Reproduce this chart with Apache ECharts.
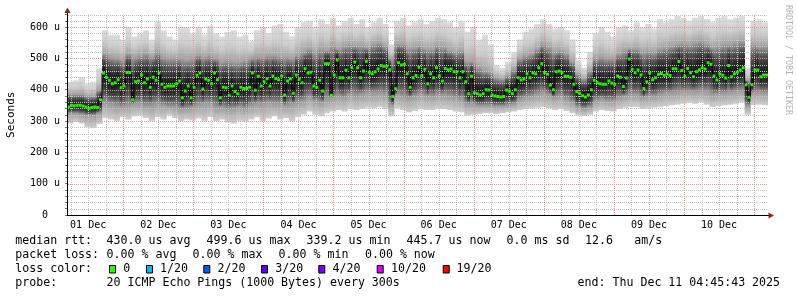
<!DOCTYPE html>
<html><head><meta charset="utf-8">
<script src="https://cdn.jsdelivr.net/npm/echarts@6/dist/echarts.min.js"></script>
<style>html,body{margin:0;padding:0;background:#fff}#c{width:797px;height:297px}</style>
</head><body><div id="c"></div>
<script>
// ---- data ----
const startHour = 4.7619;   // Dec 1 04:45:43 (hours since Dec 1 00:00)
const endHour = 244.7619;   // Dec 11 04:45:43
const dayLabels = ['01 Dec','02 Dec','03 Dec','04 Dec','05 Dec','06 Dec','07 Dec','08 Dec','09 Dec','10 Dec'];
const dayLabelHours = [12,36,60,84,108,132,156,180,204,228];
const yMaxVal = 640;

// hourly median rtt (us)
const median = [345,350,349,350,350,348,345,340,343,345,343,368,
453,440,430,419,422,432,406,412,455,455,368,425,428,448,422,434,408,440,430,453,417,408,412,412,412,419,428,374,396,
412,374,408,446,453,402,434,430,419,453,432,374,408,406,382,412,394,387,408,404,404,408,453,398,443,412,425,435,412,444,436,432,444,383,428,434,389,447,433,422,467,
453,456,412,408,430,396,483,483,382,447,495,438,438,462,438,470,488,470,438,460,491,456,451,457,466,477,475,475,464,378,403,486,479,481,451,408,438,445,472,445,465,
419,451,438,470,444,428,468,464,466,457,457,438,457,425,387,443,390,387,383,387,400,399,383,380,378,377,378,399,396,387,400,438,431,434,451,438,453,451,470,483,455,
449,415,400,457,460,455,443,443,440,417,394,389,381,377,383,400,430,423,419,417,417,428,421,417,444,440,410,437,498,465,454,463,447,404,425,453,432,438,449,452,446,
450,445,467,467,490,461,444,468,454,441,457,464,469,466,486,481,444,431,450,446,437,477,441,451,456,463,470,416,376,416,463,463,441,447,447];

// smoke envelope, 2-hour resolution (us)
const smokeMax = [425,430,440,420,425,470,
590,575,575,560,600,570,580,590,560,620,590,570,560,600,600,
580,600,575,605,580,570,585,590,570,575,555,590,600,580,605,610,585,570,600,615,
620,600,625,610,630,605,620,630,610,625,600,615,630,610,545,620,630,605,615,625,610,
620,630,625,615,600,620,585,600,560,575,545,480,470,490,520,560,585,595,610,625,
610,595,600,590,560,495,470,520,580,600,585,570,600,605,590,615,600,610,595,625,615,
625,635,630,620,630,635,625,615,630,635,625,630,635,470,620,625,615];
const smokeHi = [385,385,385,380,380,400,
515,505,500,495,515,505,510,515,505,520,505,500,500,500,495,
500,510,505,510,500,490,495,490,490,495,500,505,505,510,510,505,505,500,510,520,
530,520,530,525,540,530,540,545,540,540,535,545,550,540,500,545,545,530,535,540,530,
530,540,535,525,520,525,490,490,470,460,455,440,435,445,465,500,510,515,530,545,
535,520,525,515,490,450,435,460,500,505,500,500,515,525,530,530,520,525,520,530,535,
540,545,550,545,550,555,545,535,540,545,545,550,555,430,545,540,540];
const smokeLo = [325,325,322,318,318,325,
360,355,350,345,350,355,355,350,350,355,350,345,345,340,340,
345,350,355,355,345,345,340,340,345,340,350,355,355,360,355,355,350,355,360,365,
375,365,360,370,375,380,375,385,380,385,390,390,390,385,350,385,380,375,380,385,380,
380,385,385,380,375,370,355,355,350,350,350,348,348,350,355,370,375,378,385,390,
385,375,380,370,360,345,340,345,365,370,365,365,375,380,385,385,375,378,380,385,390,
390,392,395,395,395,398,395,385,388,390,392,395,398,350,390,392,390];
const smokeMin = [292,298,292,280,278,290,
310,305,300,312,305,315,318,310,300,312,305,318,310,300,305,
302,308,300,312,300,305,296,292,300,298,305,312,300,308,315,305,310,300,312,320,
330,320,315,325,330,335,330,340,335,338,342,340,345,338,315,340,335,328,332,338,335,
335,340,338,335,330,328,318,320,322,325,325,322,325,328,330,335,338,340,342,345,
340,335,338,332,325,318,315,320,330,335,332,330,338,342,345,345,338,340,342,345,348,
350,352,355,358,355,360,352,345,348,350,352,355,360,320,350,352,350];

const lossLabels = ['0','1/20','2/20','3/20','4/20','10/20','19/20'];
const lossColors = ['#26ff00','#00b8ff','#0059ff','#5e00ff','#7e00ff','#dd00ff','#ff0000'];

// ---- build ----
const smokeData = median.map((m, i) => {
  const k = Math.floor(i / 2);
  return [startHour + i, startHour + i + 1, smokeMin[k], smokeLo[k], smokeHi[k], smokeMax[k], m];
});
const medRects = median.map((m, i) => [startHour + i, startHour + i + 1, m]);
const medLine = median.map((m, i) => [startHour + i + 0.5, m]);

const vLines = [];
for (let h = 6; h < endHour; h += 6) if (h > startHour) vLines.push(h);
const hLines = [];
for (let v = 20; v <= yMaxVal; v += 20) hLines.push(v);

const GREY = '#c4c4c4', RED = '#e89494';

function smokeItem(params, api) {
  const xa = api.coord([api.value(0), 0])[0];
  const xb = api.coord([api.value(1), 0])[0];
  const yMin = api.coord([0, api.value(2)])[1];
  const yLo = api.coord([0, api.value(3)])[1];
  const yHi = api.coord([0, api.value(4)])[1];
  const yMax = api.coord([0, api.value(5)])[1];
  const yMed = api.coord([0, api.value(6)])[1];
  const h = yMin - yMax;
  const f = y => Math.min(1, Math.max(0, (y - yMax) / h));
  const raw = [
    [0, '#dcdcdc'],
    [f(yMax + (yHi - yMax) * 0.5), '#cdcdcd'],
    [f(yHi), '#a2a2a2'],
    [f(yHi + (yMed - yHi) * 0.35), '#525252'],
    [f(yHi + (yMed - yHi) * 0.7), '#262626'],
    [f(yMed), '#141414'],
    [f(yMed + (yLo - yMed) * 0.3), '#262626'],
    [f(yMed + (yLo - yMed) * 0.65), '#505050'],
    [f(yLo), '#9a9a9a'],
    [1, '#cfcfcf']
  ];
  let prev = 0;
  const stops = raw.map(([o, c]) => { o = Math.max(prev, o); prev = o; return { offset: o, color: c }; });
  return {
    type: 'rect',
    shape: { x: xa, y: yMax, width: xb - xa + 0.4, height: h },
    style: { fill: new echarts.graphic.LinearGradient(0, 0, 0, 1, stops) }
  };
}
function medItem(params, api) {
  const xa = api.coord([api.value(0), 0])[0];
  const xb = api.coord([api.value(1), 0])[0];
  const y = api.coord([0, api.value(2)])[1];
  return { type: 'rect', shape: { x: xa, y: y - 1.5, width: xb - xa, height: 3 }, style: { fill: '#26f000' } };
}
function vGridItem(params, api) {
  const h = api.value(0);
  const x = Math.round(api.coord([h, 0])[0]) + 0.5;
  const y0 = api.coord([h, 0])[1], y1 = api.coord([h, yMaxVal])[1];
  return { type: 'line', shape: { x1: x, y1: y0, x2: x, y2: y1 },
    style: { stroke: h % 24 === 0 ? RED : GREY, lineWidth: 1, lineDash: [1, 1] } };
}
function hGridItem(params, api) {
  const v = api.value(0);
  const y = Math.round(api.coord([startHour, v])[1]) + 0.5;
  const x0 = api.coord([startHour, v])[0], x1 = api.coord([endHour, v])[0];
  return { type: 'line', shape: { x1: x0 + 1, y1: y, x2: x1, y2: y },
    style: { stroke: v % 100 === 0 ? RED : GREY, lineWidth: 1, lineDash: [1, 1] } };
}

const MONO = '"DejaVu Sans Mono", monospace';
const LF = '11.6px ' + MONO;
function txt(s, x, y, extra) {
  return Object.assign({ type: 'text', x: x, y: y, silent: true,
    style: { text: s, font: LF, fill: '#000', textAlign: 'left', textVerticalAlign: 'middle', align: 'left', verticalAlign: 'middle' } }, extra || {});
}
const L1 = 241, L2 = 255, L3 = 269, L4 = 283;
const lossSquareX = [109, 146, 203.3, 261, 318.3, 376.7, 442.7];
const lossTextX = [124, 160.7, 218.3, 276, 333.3, 391.7, 457.3];

const gLeft = 67, gRight = 29, gTop = 14.5, gBottom = 82;
const W = 797, H = 297;
const plotRight = W - gRight, plotBottom = H - gBottom;

const graphics = [
  txt('median rtt:', 15.3, L1), txt('430.0 us avg', 106.6, L1), txt('499.6 us max', 206.6, L1),
  txt('339.2 us min', 306.6, L1), txt('445.7 us now', 406.6, L1), txt('0.0 ms sd', 506.6, L1),
  txt('12.6', 585, L1), txt('am/s', 634.3, L1),
  txt('packet loss:', 15.3, L2), txt('0.00 % avg', 106.6, L2), txt('0.00 % max', 192.6, L2),
  txt('0.00 % min', 278.6, L2), txt('0.00 % now', 365, L2),
  txt('loss color:', 15.3, L3),
  txt('probe:', 15.3, L4), txt('20 ICMP Echo Pings (1000 Bytes) every 300s', 106.6, L4),
  txt('end: Thu Dec 11 04:45:43 2025', 577.6, L4),
  { type: 'text', x: 788, y: 5, rotation: -Math.PI / 2, silent: true,
    style: { text: 'RRDTOOL / TOBI OETIKER', font: '8.3px ' + MONO, fill: '#b4b4b4', textAlign: 'left', textVerticalAlign: 'middle', align: 'left', verticalAlign: 'middle' } },
  // axis extensions + arrows
  { type: 'line', silent: true, shape: { x1: gLeft + 0.5, y1: gTop, x2: gLeft + 0.5, y2: 10 }, style: { stroke: '#000', lineWidth: 1 } },
  { type: 'polygon', silent: true, shape: { points: [[gLeft + 0.5, 7.5], [gLeft - 2.5, 13], [gLeft + 3.5, 13]] }, style: { fill: '#a01c1c' } },
  { type: 'line', silent: true, shape: { x1: plotRight, y1: plotBottom + 0.5, x2: 770, y2: plotBottom + 0.5 }, style: { stroke: '#000', lineWidth: 1 } },
  { type: 'polygon', silent: true, shape: { points: [[774, plotBottom + 0.5], [768.5, plotBottom - 2.5], [768.5, plotBottom + 3.5]] }, style: { fill: '#a01c1c' } }
];
lossLabels.forEach((lab, j) => {
  graphics.push({ type: 'rect', silent: true, shape: { x: lossSquareX[j] + 0.5, y: 265.5, width: 6, height: 7.5 },
    style: { fill: lossColors[j], stroke: '#000', lineWidth: 1 } });
  graphics.push(txt(lab, lossTextX[j] - 0.7, L3));
});

const chart = echarts.init(document.getElementById('c'), null, { renderer: 'canvas' });
chart.setOption({
  animation: false,
  backgroundColor: '#ffffff',
  grid: { left: gLeft, right: gRight, top: gTop, bottom: gBottom, containLabel: false, outerBoundsMode: 'none' },
  xAxis: {
    type: 'value', min: startHour, max: endHour, z: 5,
    axisLine: { show: true, onZero: false, lineStyle: { color: '#000', width: 1 } },
    axisTick: { show: false },
    splitLine: { show: false },
    axisLabel: {
      customValues: dayLabelHours,
      formatter: v => { const j = dayLabelHours.indexOf(Math.round(v)); return j >= 0 ? dayLabels[j] : ''; },
      fontFamily: 'DejaVu Sans Mono', fontSize: 10, color: '#000', margin: 5
    }
  },
  yAxis: {
    type: 'value', min: 0, max: yMaxVal, interval: 20, z: 5,
    name: 'Seconds', nameLocation: 'middle', nameRotate: 90, nameGap: 50,
    nameTextStyle: { fontFamily: 'DejaVu Sans Mono', fontSize: 11, color: '#000' },
    axisLine: { show: true, lineStyle: { color: '#000', width: 1 } },
    axisTick: { show: true, length: 2, lineStyle: { color: '#777' } },
    axisLabel: {
      formatter: v => (v % 100 === 0 ? (v === 0 ? '0  ' : v + ' u') : ''),
      fontFamily: 'DejaVu Sans Mono', fontSize: 10, color: '#000', margin: 7
    },
    splitLine: { show: false }
  },
  graphic: { elements: graphics },
  series: [
    { type: 'custom', name: 'smoke', renderItem: smokeItem, data: smokeData, encode: { x: [0, 1], y: [2, 5] }, z: 2, clip: true, silent: true },
    { type: 'custom', name: 'hgrid', renderItem: hGridItem, data: hLines.map(v => [v]), encode: { y: 0 }, z: 3, silent: true },
    { type: 'custom', name: 'vgrid', renderItem: vGridItem, data: vLines.map(h => [h]), encode: { x: 0 }, z: 3, silent: true },
    { type: 'line', name: 'median', data: medLine, step: 'middle', symbol: 'none', showSymbol: false,
      lineStyle: { color: '#000', width: 1 }, z: 4, silent: true },
    { type: 'custom', name: 'medianMark', renderItem: medItem, data: medRects, encode: { x: [0, 1], y: 2 }, z: 5, clip: true, silent: true }
  ]
});
</script>
</body></html>
